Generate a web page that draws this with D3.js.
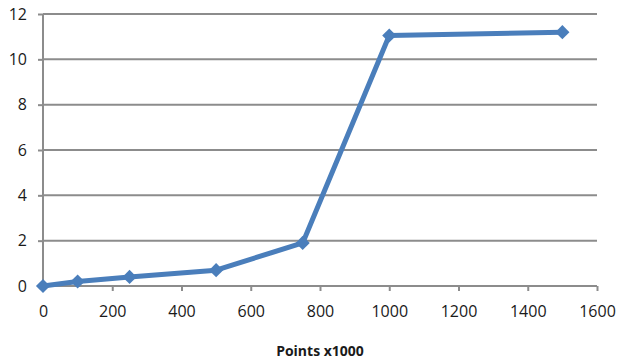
<!DOCTYPE html>
<html>
<head>
<meta charset="utf-8">
<script src="https://cdn.jsdelivr.net/npm/d3@7"></script>
<style>
  body { margin: 0; background: #fff; }
  text { font-family: "Open Sans", sans-serif; fill: #1a1a1a; }
</style>
</head>
<body>
<div id="chart"></div>
<script>
// chart data
const points = [0, 100, 250, 500, 750, 1000, 1500];
const values = [0, 0.2, 0.4, 0.7, 1.9, 11.05, 11.2];
const xTicks = [0, 200, 400, 600, 800, 1000, 1200, 1400, 1600];
const yTicks = [0, 2, 4, 6, 8, 10, 12];
const xTitle = "Points x1000";

const width = 624;
const height = 361;
const margin = { top: 14, right: 27, bottom: 75, left: 43 };

const svg = d3.select("#chart").append("svg")
  .attr("width", width)
  .attr("height", height);

const x = d3.scaleLinear().domain([0, 1600]).range([margin.left, width - margin.right]);
const y = d3.scaleLinear().domain([0, 12]).range([height - margin.bottom, margin.top]);

// horizontal grid lines
svg.append("g")
  .selectAll("line")
  .data(yTicks.filter(d => d > 0))
  .enter().append("line")
  .attr("x1", x(0))
  .attr("x2", x(1600))
  .attr("y1", d => y(d))
  .attr("y2", d => y(d))
  .attr("stroke", "#8c8c8c")
  .attr("stroke-width", 2);

// y axis
const yAxis = svg.append("g")
  .attr("transform", `translate(${x(0)},0)`)
  .call(d3.axisLeft(y).tickValues(yTicks).tickFormat(d3.format("d")).tickSize(5).tickPadding(11));
yAxis.selectAll("line, path").attr("stroke", "#8c8c8c").attr("stroke-width", 2);
yAxis.select(".domain").attr("d", `M0,${y(0)}V${y(12)}`);
yAxis.attr("font-size", 16).attr("font-family", null);
yAxis.selectAll("text").attr("fill", "#1a1a1a");

// x axis
const xAxis = svg.append("g")
  .attr("transform", `translate(0,${y(0)})`)
  .call(d3.axisBottom(x).tickValues(xTicks).tickFormat(d3.format("d")).tickSize(5).tickPadding(15));
xAxis.selectAll("line, path").attr("stroke", "#8c8c8c").attr("stroke-width", 2);
xAxis.select(".domain").attr("d", `M${x(0)},0H${x(1600)}`);
xAxis.attr("font-size", 16).attr("font-family", null);
xAxis.selectAll("text").attr("fill", "#1a1a1a");

svg.append("text")
  .attr("x", (x(0) + x(1600)) / 2)
  .attr("y", 356)
  .attr("text-anchor", "middle")
  .attr("font-size", 14)
  .attr("font-weight", "bold")
  .text(xTitle);

// series
const data = points.map((p, i) => ({ p, v: values[i] }));

svg.append("path")
  .datum(data)
  .attr("fill", "none")
  .attr("stroke", "#4a7ebb")
  .attr("stroke-width", 5)
  .attr("stroke-linejoin", "round")
  .attr("d", d3.line().x(d => x(d.p)).y(d => y(d.v)));

svg.append("g")
  .selectAll("path")
  .data(data)
  .enter().append("path")
  .attr("transform", d => `translate(${x(d.p)},${y(d.v)}) rotate(45)`)
  .attr("d", d3.symbol().type(d3.symbolSquare).size(100))
  .attr("fill", "#4a7ebb");
</script>
</body>
</html>
